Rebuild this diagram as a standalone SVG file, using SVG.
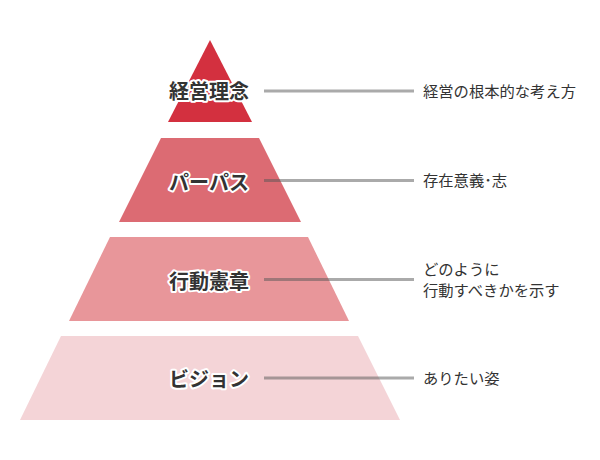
<svg xmlns="http://www.w3.org/2000/svg" width="600" height="460" viewBox="0 0 600 460">
<style>
.lbl{font-family:"Noto Sans CJK JP","Noto Sans",sans-serif;font-weight:bold;font-size:20px;fill:#333;stroke:#fff;stroke-width:4px;stroke-linejoin:round;paint-order:stroke;text-anchor:middle;dominant-baseline:central}
.desc{font-family:"Noto Sans CJK JP","Noto Sans",sans-serif;font-size:15.3px;fill:#333}
.conn{stroke:#555;stroke-opacity:0.5;stroke-width:3;fill:none}
</style>
<rect width="600" height="460" fill="#fff"/>
<g id="level1"><polygon points="210,40 252,122 168,122" fill="#d3303f"/></g>
<g id="level2"><polygon points="161,138 259,138 301,222 119,222" fill="#dc6b73"/></g>
<g id="level3"><polygon points="110,237 308,237 349,321 69,321" fill="#e8969a"/></g>
<g id="level4"><polygon points="61,336 358,336 400,420 20,420" fill="#f4d4d7"/></g>
<g id="connectors">
<line class="conn" x1="264" y1="91" x2="414" y2="91"/>
<line class="conn" x1="264" y1="180.5" x2="414" y2="180.5"/>
<line class="conn" x1="264" y1="279.5" x2="414" y2="279.5"/>
<line class="conn" x1="264" y1="378" x2="414" y2="378"/>
</g>
<g id="labels">
<text class="lbl" x="209" y="90">経営理念</text>
<text class="lbl" x="209" y="181">パーパス</text>
<text class="lbl" x="209" y="280">行動憲章</text>
<text class="lbl" x="209" y="378">ビジョン</text>
</g>
<g id="descriptions">
<text class="desc" x="423" y="96.5">経営の根本的な考え方</text>
<text class="desc" x="423" y="186">存在意義･志</text>
<text class="desc" x="423" y="274.5">どのように</text>
<text class="desc" x="423" y="295.5">行動すべきかを示す</text>
<text class="desc" x="423" y="383.5">ありたい姿</text>
</g>
</svg>
